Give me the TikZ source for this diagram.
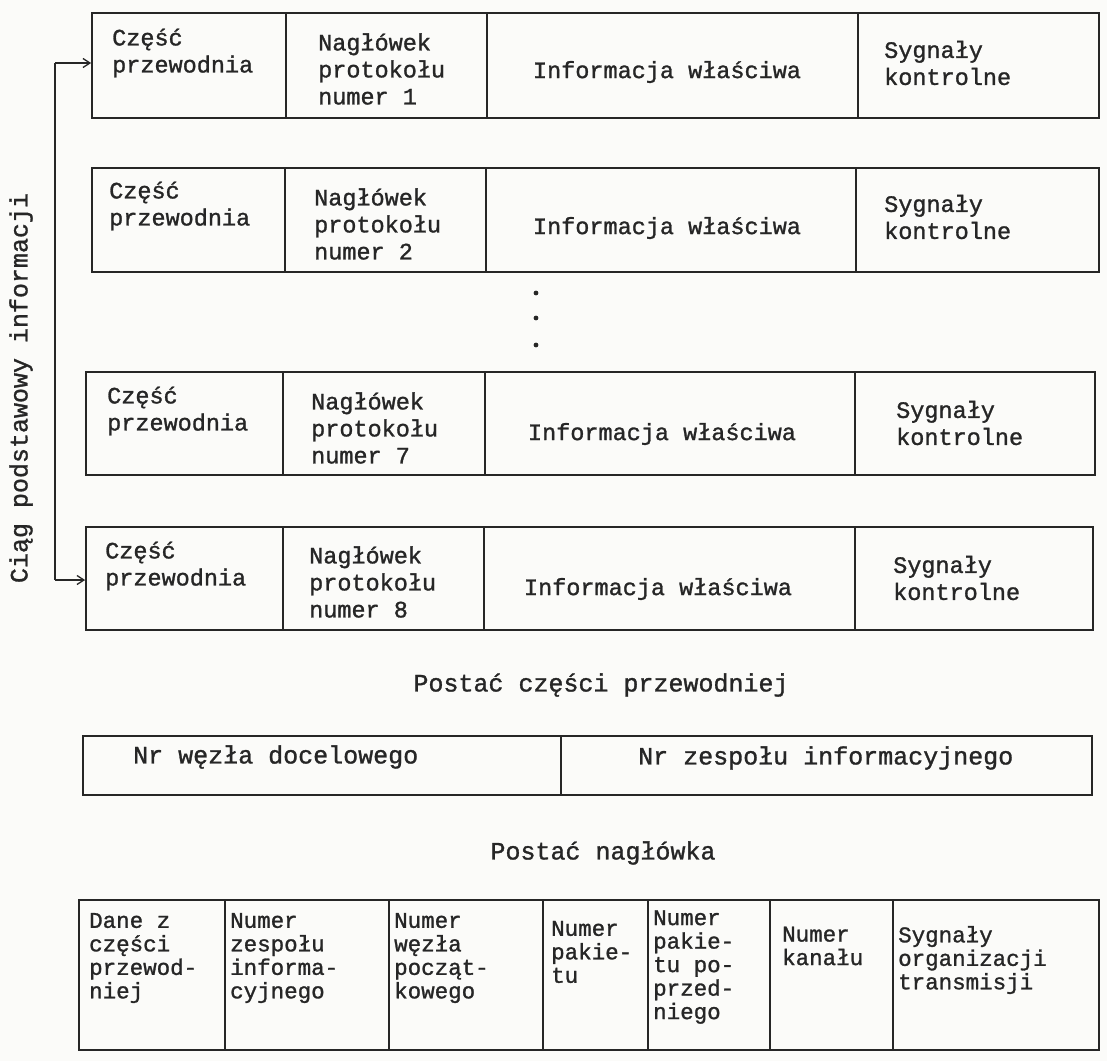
\documentclass[tikz,border=0pt]{standalone}
\usepackage{fontspec}
\setmainfont[FakeBold=1.2]{Liberation Mono}
\usetikzlibrary{fit,arrows.meta}
\definecolor{ink}{HTML}{262626}
\definecolor{paper}{HTML}{FBFBF9}
\tikzset{
  cell/.style={draw=ink, line width=1.7pt, inner sep=0pt},
  rowtxt/.style={font=\fontsize{23.5}{27}\selectfont, align=left, inner sep=0pt, text=ink, anchor=west},
  midtxt/.style={font=\fontsize{23.5}{27}\selectfont, inner sep=0pt, text=ink},
  hdrtxt/.style={font=\fontsize{22.5}{23.5}\selectfont, align=left, inner sep=0pt, text=ink, anchor=west},
  captxt/.style={font=\fontsize{25}{30}\selectfont, inner sep=0pt, text=ink},
  feed/.style={draw=ink, line width=1.3pt},
  feedarrow/.style={feed, -{Straight Barb[length=7pt,width=9pt]}},
  seqdot/.style={fill=ink}
}
\begin{document}
\begin{tikzpicture}[x=1pt,y=-1pt]
\fill[paper] (0,0) rectangle (1107,1061);
\useasboundingbox (0,0) rectangle (1107,1061);

% ---- packet 1 ----
\node[cell, fit={(92,13) (286,118)}]   (r1a) {};
\node[cell, fit={(286,13) (487,118)}]  (r1b) {};
\node[cell, fit={(487,13) (858,118)}]  (r1c) {};
\node[cell, fit={(858,13) (1099,118)}] (r1d) {};
\node[rowtxt] (t1a) at (112,53) {Część\\przewodnia};
\node[rowtxt] (t1b) at (318,69) {Nagłówek\\protokołu\\numer 1};
\node[midtxt] (t1c) at (667,72) {Informacja właściwa};
\node[rowtxt] (t1d) at (884,63) {Sygnały\\kontrolne};

% ---- packet 2 ----
\node[cell, fit={(92,168) (285,272)}]   (r2a) {};
\node[cell, fit={(285,168) (486,272)}]  (r2b) {};
\node[cell, fit={(486,168) (856,272)}]  (r2c) {};
\node[cell, fit={(856,168) (1099,272)}] (r2d) {};
\node[rowtxt] (t2a) at (109,206) {Część\\przewodnia};
\node[rowtxt] (t2b) at (314,224) {Nagłówek\\protokołu\\numer 2};
\node[midtxt] (t2c) at (667,228) {Informacja właściwa};
\node[rowtxt] (t2d) at (884,217) {Sygnały\\kontrolne};

% ---- omitted packets ----
\fill[seqdot] (536,293) circle[radius=2.4pt];
\fill[seqdot] (536,318) circle[radius=2.4pt];
\fill[seqdot] (536,345) circle[radius=2.4pt];

% ---- packet 7 ----
\node[cell, fit={(86,372) (283,475)}]   (r3a) {};
\node[cell, fit={(283,372) (485,475)}]  (r3b) {};
\node[cell, fit={(485,372) (855,475)}]  (r3c) {};
\node[cell, fit={(855,372) (1095,475)}] (r3d) {};
\node[rowtxt] (t3a) at (107,411) {Część\\przewodnia};
\node[rowtxt] (t3b) at (311,428) {Nagłówek\\protokołu\\numer 7};
\node[midtxt] (t3c) at (662,434) {Informacja właściwa};
\node[rowtxt] (t3d) at (896,423) {Sygnały\\kontrolne};

% ---- packet 8 ----
\node[cell, fit={(86,527) (283,630)}]   (r4a) {};
\node[cell, fit={(283,527) (484,630)}]  (r4b) {};
\node[cell, fit={(484,527) (855,630)}]  (r4c) {};
\node[cell, fit={(855,527) (1093,630)}] (r4d) {};
\node[rowtxt] (t4a) at (105,566) {Część\\przewodnia};
\node[rowtxt] (t4b) at (309,582) {Nagłówek\\protokołu\\numer 8};
\node[midtxt] (t4c) at (658,589) {Informacja właściwa};
\node[rowtxt] (t4d) at (893,578) {Sygnały\\kontrolne};

% ---- sequence bracket on the left ----
\coordinate (seqtop) at (55,63);
\coordinate (seqbot) at (55,580);
\draw[feed] (seqtop) -- (seqbot);
\draw[feedarrow] (seqtop) -- (r1a.west |- seqtop);
\draw[feedarrow] (seqbot) -- (r4a.west |- seqbot);
\node[captxt, rotate=90] (seqlbl) at (21,388) {Ciąg podstawowy informacji};

% ---- leading part layout ----
\node[captxt] (cap1) at (601,685) {Postać części przewodniej};
\node[cell, fit={(83,736) (561,795)}]   (p1) {};
\node[cell, fit={(561,736) (1092,795)}] (p2) {};
\node[captxt, anchor=west] (tp1) at (133,757) {Nr węzła docelowego};
\node[captxt, anchor=west] (tp2) at (638,758) {Nr zespołu informacyjnego};

% ---- header layout ----
\node[captxt] (cap2) at (603,853) {Postać nagłówka};
\node[cell, fit={(79,900) (225,1050)}]   (h1) {};
\node[cell, fit={(225,900) (389,1050)}]  (h2) {};
\node[cell, fit={(389,900) (543,1050)}]  (h3) {};
\node[cell, fit={(543,900) (648,1050)}]  (h4) {};
\node[cell, fit={(648,900) (770,1050)}]  (h5) {};
\node[cell, fit={(770,900) (893,1050)}]  (h6) {};
\node[cell, fit={(893,900) (1099,1050)}] (h7) {};
\node[hdrtxt] (th1) at (89,958)  {Dane z\\części\\przewod-\\niej};
\node[hdrtxt] (th2) at (230,958) {Numer\\zespołu\\informa-\\cyjnego};
\node[hdrtxt] (th3) at (394,958) {Numer\\węzła\\począt-\\kowego};
\node[hdrtxt] (th4) at (551,952) {Numer\\pakie-\\tu};
\node[hdrtxt] (th5) at (653,967) {Numer\\pakie-\\tu po-\\przed-\\niego};
\node[hdrtxt] (th6) at (782,946) {Numer\\kanału};
\node[hdrtxt] (th7) at (898,960) {Sygnały\\organizacji\\transmisji};
\end{tikzpicture}
\end{document}
